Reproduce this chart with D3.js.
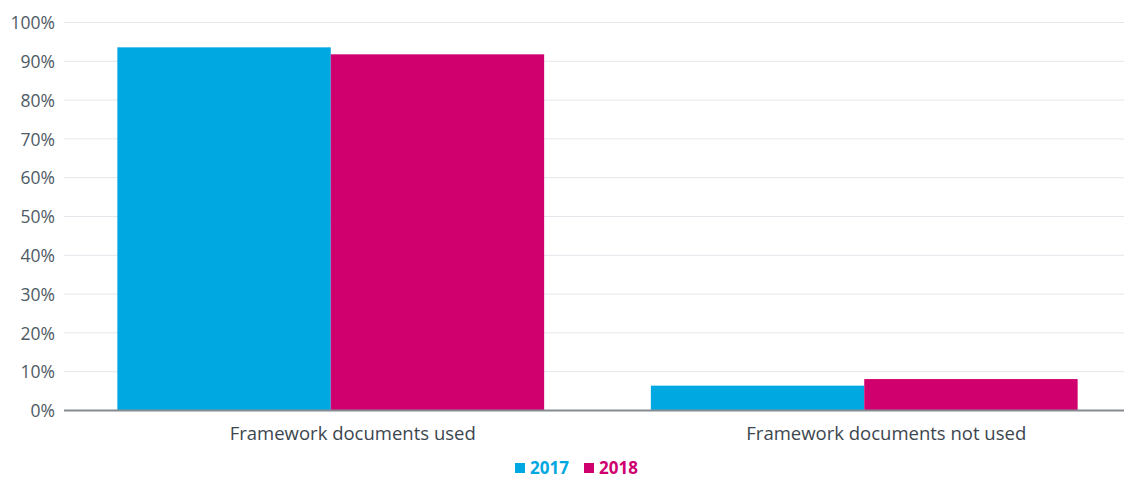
<!DOCTYPE html>
<html>
<head>
  <meta charset="utf-8">
  <style>
    body { margin: 0; background: #fff; font-family: 'Open Sans', sans-serif; }
    .tick text { font-family: 'Open Sans', sans-serif; }
  </style>
</head>
<body>
  <div id="chart"></div>
  <script src="https://d3js.org/d3.v7.min.js"></script>
  <script>
    var categories = ["Framework documents used", "Framework documents not used"];
    var series = ["2017", "2018"];
    var values2017 = [93.6, 6.4];
    var values2018 = [91.8, 8.1];
    var yTicks = [0, 10, 20, 30, 40, 50, 60, 70, 80, 90, 100];
    var colors = { "2017": "#00a8e1", "2018": "#d0006f" };

    var width = 1124, height = 478;
    var m = { top: 22.5, bottom: 67.5, left: 64, right: -7 };

    var svg = d3.select("#chart").append("svg")
      .attr("width", width)
      .attr("height", height);

    var x0 = d3.scaleBand()
      .domain(categories)
      .range([m.left, width - m.right])
      .paddingInner(0.2)
      .paddingOuter(0.1);

    var x1 = d3.scaleBand()
      .domain(series)
      .range([0, x0.bandwidth()]);

    var y = d3.scaleLinear()
      .domain([0, 100])
      .range([height - m.bottom, m.top]);

    // gridlines
    svg.append("g")
      .selectAll("line")
      .data(yTicks.filter(function(d) { return d > 0; }))
      .enter().append("line")
      .attr("x1", m.left)
      .attr("x2", width)
      .attr("y1", function(d) { return y(d); })
      .attr("y2", function(d) { return y(d); })
      .attr("stroke", "#e3e7eb")
      .attr("stroke-width", 1);

    var rows = categories.map(function(c, i) {
      return { cat: c, vals: [{ s: "2017", v: values2017[i] }, { s: "2018", v: values2018[i] }] };
    });

    svg.append("g")
      .selectAll("g")
      .data(rows)
      .enter().append("g")
      .attr("transform", function(d) { return "translate(" + x0(d.cat) + ",0)"; })
      .selectAll("rect")
      .data(function(d) { return d.vals; })
      .enter().append("rect")
      .attr("x", function(d) { return x1(d.s); })
      .attr("width", x1.bandwidth())
      .attr("y", function(d) { return y(d.v); })
      .attr("height", function(d) { return y(0) - y(d.v); })
      .attr("fill", function(d) { return colors[d.s]; });

    // y axis labels
    var yAxis = svg.append("g")
      .attr("transform", "translate(" + (m.left - 9) + ",0)")
      .call(d3.axisLeft(y).tickValues(yTicks).tickSize(0).tickPadding(0)
        .tickFormat(function(d) { return d + "%"; }));
    yAxis.select(".domain").remove();
    yAxis.selectAll("text")
      .attr("dy", "0.35em")
      .style("font-size", "17.5px")
      .style("fill", "#4f5a64");

    // x axis line
    svg.append("line")
      .attr("x1", m.left)
      .attr("x2", width)
      .attr("y1", y(0))
      .attr("y2", y(0))
      .attr("stroke", "#858b91")
      .attr("stroke-width", 2);

    // category labels sit a little right of the group centre
    var xAxis = svg.append("g")
      .attr("transform", "translate(22," + y(0) + ")")
      .call(d3.axisBottom(x0).tickSize(0));
    xAxis.select(".domain").remove();
    xAxis.selectAll("text")
      .attr("y", 29.5)
      .attr("dy", null)
      .style("font-size", "18.5px")
      .style("fill", "#3c464f");

    // legend
    var legend = svg.append("g").attr("transform", "translate(0,468)");
    var lx = [515, 584];
    series.forEach(function(s, i) {
      legend.append("rect")
        .attr("x", lx[i])
        .attr("y", -5)
        .attr("width", 10)
        .attr("height", 10)
        .attr("fill", colors[s]);
      legend.append("text")
        .attr("x", lx[i] + 15)
        .attr("y", 0)
        .attr("dy", "0.35em")
        .attr("font-size", 17)
        .attr("font-weight", "bold")
        .attr("fill", colors[s])
        .text(s);
    });
  </script>
</body>
</html>
